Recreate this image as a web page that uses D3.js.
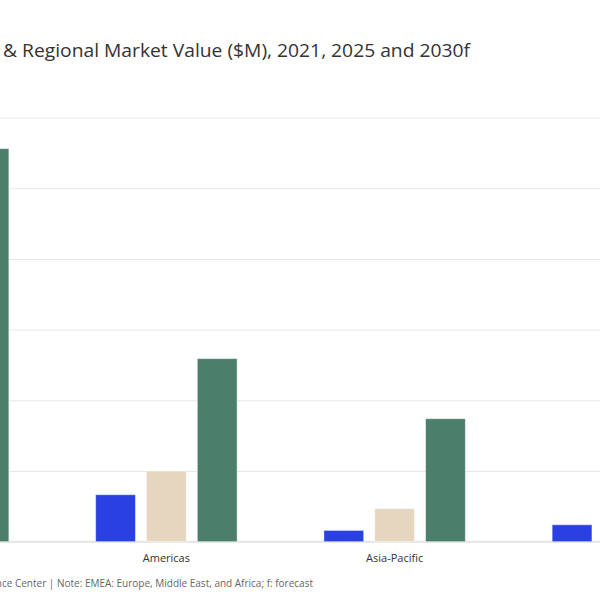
<!DOCTYPE html>
<html>
<head>
<meta charset="utf-8">
<script src="https://cdn.jsdelivr.net/npm/d3@7"></script>
<style>
  html, body { margin: 0; padding: 0; background: #fff; }
  svg { display: block; font-family: "Open Sans", "DejaVu Sans", sans-serif; }
</style>
</head>
<body>
<div id="grafico"></div>
<script>
// regions (the first and the last fall partly outside the 600px view)
const regions = ["EMEA", "Americas", "Asia-Pacific", "Other"];
const years = ["2021", "2025", "2030f"];
// market value ($M)
const values2021 = [1500, 665, 160, 240];
const values2025 = [2600, 1000, 467, 520];
const values2030 = [5560, 2590, 1740, 1350];
const yTicks = [0, 1000, 2000, 3000, 4000, 5000, 6000];
const colors = ["#2B40E3", "#E6D6BF", "#4C7F6B"];

const title = "& Regional Market Value ($M), 2021, 2025 and 2030f";
const note = "Source: GlobalData Intelligence Center | Note: EMEA: Europe, Middle East, and Africa; f: forecast";

document.addEventListener("DOMContentLoaded", () => {
    const width = 600;
    const height = 600;
    const left = -176;          // plot starts off-screen, like the cropped original
    const right = 737;
    const top = 117.5;
    const bottom = 541.7;

    const series = [values2021, values2025, values2030];
    const data = regions.map((r, i) => ({
        region: r,
        vals: years.map((y, j) => ({ year: y, idx: j, value: series[j][i] }))
    }));

    const x0 = d3.scaleBand()
        .domain(regions)
        .range([left, right])
        .paddingInner(0.38)
        .paddingOuter(0.19);

    const x1 = d3.scaleBand()
        .domain(years)
        .range([0, x0.bandwidth()])
        .paddingInner(0.216);

    const yScale = d3.scaleLinear()
        .domain([0, 6000])
        .range([bottom, top]);

    const svg = d3.select("#grafico")
        .append("svg")
        .attr("width", width)
        .attr("height", height);

    // gridlines only, the tick labels are outside the cropped view
    const yAxis = d3.axisLeft(yScale)
        .tickValues(yTicks)
        .tickSize(-(right - left + 200))
        .tickFormat("");

    svg.append("g")
        .attr("transform", `translate(${left - 100}, 0)`)
        .call(yAxis)
        .call(g => g.select(".domain").remove())
        .call(g => g.selectAll("line").attr("stroke", "#e8e8e8").attr("stroke-width", 1));

    svg.append("line")
        .attr("x1", left - 100).attr("x2", right + 100)
        .attr("y1", yScale(0)).attr("y2", yScale(0))
        .attr("stroke", "#e6e6e6")
        .attr("stroke-width", 2);

    // bars
    svg.append("g")
        .selectAll("g")
        .data(data)
        .enter()
        .append("g")
        .attr("transform", d => `translate(${x0(d.region)}, 0)`)
        .selectAll("rect")
        .data(d => d.vals)
        .enter()
        .append("rect")
        .attr("x", d => x1(d.year))
        .attr("y", d => yScale(d.value))
        .attr("width", x1.bandwidth())
        .attr("height", d => yScale(0) - yScale(d.value))
        .attr("fill", d => colors[d.idx])
        .attr("stroke", "#ffffff")
        .attr("stroke-opacity", 0.5)
        .attr("stroke-width", 1);

    // category labels
    svg.append("g")
        .selectAll("text")
        .data(regions)
        .enter()
        .append("text")
        .attr("x", d => x0(d) + x0.bandwidth() / 2)
        .attr("y", 562)
        .attr("text-anchor", "middle")
        .attr("font-size", 11)
        .attr("fill", "#333")
        .text(d => d);

    // title, cut on the left like the original
    svg.append("text")
        .attr("x", 3)
        .attr("y", 57)
        .attr("font-size", 18)
        .attr("fill", "#333")
        .attr("textLength", 467)
        .attr("lengthAdjust", "spacingAndGlyphs")
        .text(title);

    // note
    svg.append("text")
        .attr("x", 313)
        .attr("y", 587)
        .attr("text-anchor", "end")
        .attr("font-size", 10)
        .attr("fill", "#666")
        .text(note);
});
</script>
</body>
</html>
